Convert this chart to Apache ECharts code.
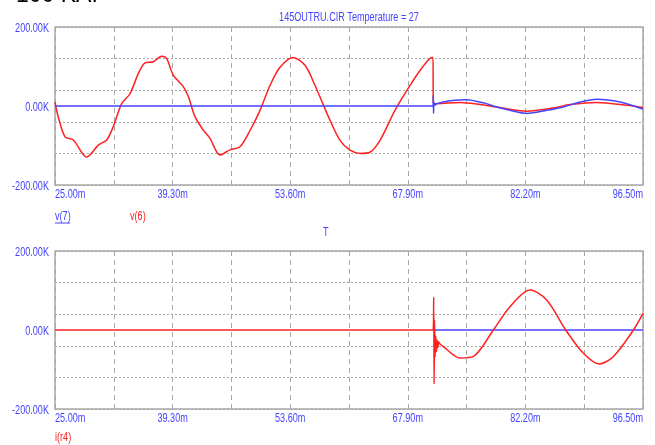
<!DOCTYPE html>
<html>
<head>
<meta charset="utf-8">
<script src="https://cdn.jsdelivr.net/npm/echarts@6/dist/echarts.min.js"></script>
<style>
  html, body { margin: 0; padding: 0; background: #fff; }
  #main { width: 655px; height: 445px; }
</style>
</head>
<body>
<div id="main"></div>
<script>
// time in ms, values in K
const T0 = 25.0;
const DIV = 7.15;
const xTickLabels = ['25.00m', '39.30m', '53.60m', '67.90m', '82.20m', '96.50m'];
const yTickLabels = ['-200.00K', '0.00K', '200.00K'];

// top panel: v(6) red
const tV6 = [25.00, 25.40, 26.22, 27.23, 28.85, 30.27, 31.29, 32.09, 33.11, 34.12, 35.13, 35.94, 36.95, 37.97, 38.58, 39.38, 40.60, 41.21, 42.02, 43.03, 43.85, 45.06, 46.28, 47.50, 48.71, 49.93, 51.14, 52.36, 53.94, 55.40, 56.62, 58.44, 59.66, 60.87, 62.09, 63.30, 64.52, 66.34, 68.17, 69.38, 70.60, 70.96, 71.00, 71.41, 74.25, 76.68, 78.71, 82.36, 85.56, 87.62, 90.87, 94.52, 96.50];
const v6 = [10, -28, -78, -86, -129, -99, -86, -52, 6, 31, 82, 109, 112, 126, 120, 78, 49, 24, -27, -61, -82, -124, -111, -103, -62, -11, 52, 98, 123, 103, 52, -36, -87, -112, -120, -117, -87, -11, 52, 90, 121, 123, 10, 6, 9, 4, -2.5, -13, -5, 3.5, 9, 2, -4];

// top panel: v(7) blue
const tV7 = [25.00, 70.98, 71.00, 71.03, 71.08, 71.20, 71.41, 73.03, 75.06, 77.08, 78.71, 80.33, 82.36, 84.79, 86.81, 88.84, 90.87, 93.70, 96.50];
const v7 = [0, 0, 27, -19, 8, 2, 6, 13, 16, 8, -2.5, -11, -19, -11, -2.5, 10, 17, 10, -8];

// bottom panel: i(r4) red
const tIr4 = [25.00, 70.98, 71.05, 71.10, 71.15, 71.22, 71.30, 71.38, 71.46, 71.55, 71.65, 71.80, 72.22, 74.25, 75.87, 78.30, 80.33, 82.76, 84.79, 87.10, 89.25, 91.16, 92.91, 95.34, 96.50];
const ir4 = [0, 0, 83, -137, 25, -68, -15, -55, -25, -45, -30, -35, -42, -71, -67, 0, 59, 101, 76, 0, -59, -86, -67, 0, 42];

// bottom panel: blue reference
const tRef = [71.00, 96.50];
const ref = [0, 0];

const pts = (ts, vs) => ts.map((t, i) => [(t - T0) / DIV, vs[i]]);

const BLUE = '#4444ff';
const RED = '#ff2020';
const GRIDC = '#a8a8a8';
const LFONT = "13px 'Liberation Sans', Arial, sans-serif";
const SX = 0.7; // narrow look of the original font

const xAxisFor = (gi) => ({
  type: 'value',
  gridIndex: gi,
  min: 0,
  max: 10,
  interval: 1,
  axisLine: { show: false },
  axisTick: { show: false },
  axisLabel: { show: false },
  splitLine: { show: true, lineStyle: { color: GRIDC, type: [5, 4], width: 1 } },
});

const yLabelAxis = (gi) => ({
  type: 'value',
  gridIndex: gi,
  min: -200,
  max: 200,
  interval: 200,
  axisLine: { show: false },
  axisTick: { show: false },
  splitLine: { show: false },
  axisLabel: { show: false },
});

const yGridAxis = (gi) => ({
  type: 'value',
  gridIndex: gi,
  min: 0,
  max: 5,
  interval: 1,
  axisLine: { show: false },
  axisTick: { show: false },
  axisLabel: { show: false },
  splitLine: { show: true, lineStyle: { color: GRIDC, type: [2, 2], width: 1 } },
});

const lineSeries = (name, xi, yi, data, color) => ({
  name: name,
  type: 'line',
  xAxisIndex: xi,
  yAxisIndex: yi,
  data: data,
  showSymbol: false,
  symbol: 'none',
  smooth: 0.3,
  silent: true,
  lineStyle: { color: color, width: 1.5 },
  itemStyle: { color: color },
});

const narrowText = (x, y, text, color, align, vAlign) => ({
  type: 'text',
  x: x,
  y: y,
  scaleX: SX,
  silent: true,
  style: { text: text, fill: color, font: LFONT, align: align, verticalAlign: vAlign },
});

var myChart = echarts.init(document.getElementById('main'));
myChart.setOption({
  animation: false,
  backgroundColor: '#fff',
  grid: [
    { left: 55, top: 27, width: 588, height: 158, show: true, borderColor: GRIDC, borderWidth: 1.5, backgroundColor: 'transparent' },
    { left: 55, top: 251, width: 588, height: 158, show: true, borderColor: GRIDC, borderWidth: 1.5, backgroundColor: 'transparent' },
  ],
  xAxis: [xAxisFor(0), xAxisFor(1)],
  yAxis: [yLabelAxis(0), yGridAxis(0), yLabelAxis(1), yGridAxis(1)],
  series: [
    lineSeries('v(6)', 0, 0, pts(tV6, v6), RED),
    lineSeries('v(7)', 0, 0, pts(tV7, v7), BLUE),
    lineSeries('ref', 1, 2, pts(tRef, ref), BLUE),
    lineSeries('i(r4)', 1, 2, pts(tIr4, ir4), RED),
  ],
});

// tick labels placed from the axes' own scales
const graphics = [
  { type: 'text', left: 16, top: -16, style: { text: '100 KAI', fill: '#000', font: "23px 'Liberation Sans', Arial, sans-serif" } },
  narrowText(349, 17, '145OUTRU.CIR Temperature = 27', BLUE, 'center', 'middle'),
  narrowText(55, 216, 'v(7)', BLUE, 'left', 'middle'),
  { type: 'line', shape: { x1: 55, y1: 223, x2: 70, y2: 223 }, style: { stroke: BLUE, lineWidth: 1 } },
  narrowText(130, 216, 'v(6)', RED, 'left', 'middle'),
  narrowText(323, 232, 'T', BLUE, 'left', 'middle'),
  narrowText(55, 437, 'i(r4)', RED, 'left', 'middle'),
];
[0, 1].forEach((gi) => {
  const yBottom = myChart.convertToPixel({ yAxisIndex: gi * 2 }, -200);
  const xLeft = myChart.convertToPixel({ xAxisIndex: gi }, 0);
  xTickLabels.forEach((lab, k) => {
    const px = myChart.convertToPixel({ xAxisIndex: gi }, k * 2);
    const align = k === 0 ? 'left' : (k === xTickLabels.length - 1 ? 'right' : 'center');
    graphics.push(narrowText(px, yBottom + 3, lab, BLUE, align, 'top'));
  });
  yTickLabels.forEach((lab, k) => {
    const py = myChart.convertToPixel({ yAxisIndex: gi * 2 }, -200 + k * 200);
    graphics.push(narrowText(xLeft - 6, py + 1, lab, BLUE, 'right', 'middle'));
  });
});
myChart.setOption({ graphic: graphics });
</script>
</body>
</html>
